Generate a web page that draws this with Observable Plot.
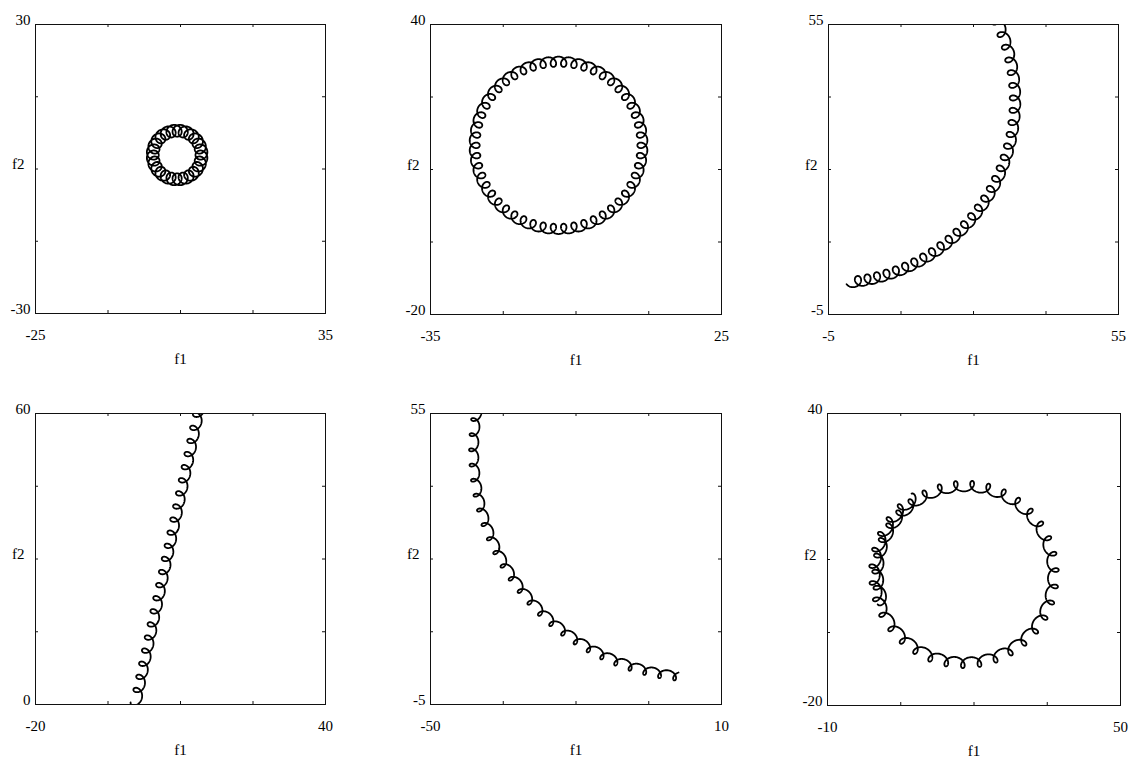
<!DOCTYPE html>
<html>
<head>
<meta charset="utf-8">
<script src="https://cdn.jsdelivr.net/npm/d3@7"></script>
<script src="https://cdn.jsdelivr.net/npm/@observablehq/plot@0.6"></script>
<style>
  html, body { margin: 0; padding: 0; background: white; }
  #chart { position: relative; width: 1129px; height: 759px; background: white; overflow: hidden; }
</style>
</head>
<body>
<div id="chart"></div>
<script>
// ---- data (axis ranges and curve parameters) ----
const panelNames   = ["p1", "p2", "p3", "p4", "p5", "p6"];
const xDomains     = [[-25, 35], [-35, 25], [-5, 55], [-20, 40], [-50, 10], [-10, 50]];
const yDomains     = [[-30, 30], [-20, 40], [-5, 55], [0, 60], [-5, 55], [-20, 40]];
const xAxisTitle   = "f1";
const yAxisTitle   = "f2";
// guiding path of each trajectory: circular arcs (centre, radius start/end, angle start/end in degrees) or a straight segment
const guideKinds   = ["arc", "arc", "arc", "line", "arc", "arc"];
const arcCentres   = [[4.3, 2.9], [-8.6, 15.0], [-4.2, 39.3], null, [5.7, 47.4], [18.1, 7.1]];
const arcRadii     = [[5.05, 5.05], [17.3, 17.3], [37.8, 37.8], null, [46.8, 46.8], [18.6, 17.8]];
const arcAngles    = [[0, 360], [0, 360], [-84, 27], null, [170, 265], [123.5, 559.5]];
const lineEnds     = [null, null, null, [[0.7, 0.2], [13.9, 61]], null, null];
// small loops riding on the path
const loopCounts   = [24, 50, 31, 22.5, 25, 42];
const loopRadii    = [1.25, 1.05, 1.1, 1.05, 0.95, 1.1];
const loopSides    = [1, 1, 1, 1, -1, -1];   // +1 = loops to the left of travel
const loopPhases   = [0, 0, 0.3, 0, 0.4, 0];
const loopChirps   = [0, 0, -0.155, 0, 0, 0]; // change of loop spacing along the path

// ---- layout (pixel frames of the six panels) ----
const frames = [
  [35, 24, 290, 289], [430, 24, 291, 290], [828, 24, 290, 290],
  [35, 413, 290, 291], [430, 413, 291, 291], [827, 413, 293, 292]
];

function trajectory(i) {
  const n = loopCounts[i], r = loopRadii[i], side = loopSides[i], ph = loopPhases[i], kc = loopChirps[i];
  const N = Math.ceil(n * 72);
  const pts = [];
  for (let k = 0; k <= N; k++) {
    const u = k / N;
    let gx, gy, tx, ty;
    if (guideKinds[i] === "arc") {
      const [cx, cy] = arcCentres[i];
      const [r0, r1] = arcRadii[i];
      const [a0, a1] = arcAngles[i];
      const th = (a0 + (a1 - a0) * u) * Math.PI / 180;
      const R = r0 + (r1 - r0) * u;
      const dir = Math.sign(a1 - a0);
      gx = cx + R * Math.cos(th); gy = cy + R * Math.sin(th);
      tx = -Math.sin(th) * dir; ty = Math.cos(th) * dir;
    } else {
      const [[x0, y0], [x1, y1]] = lineEnds[i];
      gx = x0 + (x1 - x0) * u; gy = y0 + (y1 - y0) * u;
      const L = Math.hypot(x1 - x0, y1 - y0);
      tx = (x1 - x0) / L; ty = (y1 - y0) / L;
    }
    const nx = -ty, ny = tx;
    const g = (u + kc * u * u) / (1 + kc);
    const a = 2 * Math.PI * (n * g + ph);
    const s = -Math.sin(a), c = side * Math.cos(a);
    pts.push({x: gx + r * (s * tx + c * nx), y: gy + r * (s * ty + c * ny)});
  }
  return pts;
}

const chart = document.getElementById("chart");
const ML = 45, MR = 15, MT = 15, MB = 60;
const font = "'Liberation Serif', 'Times New Roman', serif";

panelNames.forEach((name, i) => {
  const [fx, fy, fw, fh] = frames[i];
  const [x0, x1] = xDomains[i];
  const [y0, y1] = yDomains[i];
  const xq = [1, 2, 3].map(k => x0 + k * (x1 - x0) / 4);
  const yq = [1, 2, 3].map(k => y0 + k * (y1 - y0) / 4);
  const ymid = yq[1];
  const ink = "#111";
  const svg = Plot.plot({
    width: fw + ML + MR,
    height: fh + MT + MB,
    marginLeft: ML, marginRight: MR, marginTop: MT, marginBottom: MB,
    x: {domain: [x0, x1], axis: null},
    y: {domain: [y0, y1], axis: null},
    style: {fontFamily: font, fontSize: "15px", background: "transparent", color: "black"},
    marks: [
      Plot.tickX(xq, {x: d => d, insetTop: fh - 3, stroke: ink}),
      Plot.tickX(xq, {x: d => d, insetBottom: fh - 3, stroke: ink}),
      Plot.tickY(yq, {y: d => d, insetRight: fw - 3, stroke: ink}),
      Plot.tickY(yq, {y: d => d, insetLeft: fw - 3, stroke: ink}),
      Plot.line(trajectory(i), {x: "x", y: "y", stroke: "black", strokeWidth: 1.8, clip: true}),
      Plot.frame({stroke: ink, strokeWidth: 1}),
      Plot.text([y0, y1], {y: d => d, text: d => String(d), frameAnchor: "left", textAnchor: "end", lineAnchor: "bottom", dx: -5, fontSize: 15, fill: "black"}),
      Plot.text([ymid], {y: d => d, text: () => yAxisTitle, frameAnchor: "left", textAnchor: "end", lineAnchor: "bottom", dx: -11, fontSize: 15, fill: "black"}),
      Plot.text([x0, x1], {x: d => d, text: d => String(d), frameAnchor: "bottom", lineAnchor: "bottom", dy: 26, fontSize: 15, fill: "black"}),
      Plot.text([xAxisTitle], {text: d => d, frameAnchor: "bottom", lineAnchor: "bottom", dy: 50, fontSize: 15, fill: "black"})
    ]
  });
  svg.style.position = "absolute";
  svg.style.left = (fx - ML) + "px";
  svg.style.top = (fy - MT) + "px";
  svg.style.maxWidth = "none";
  chart.appendChild(svg);
});
</script>
</body>
</html>
